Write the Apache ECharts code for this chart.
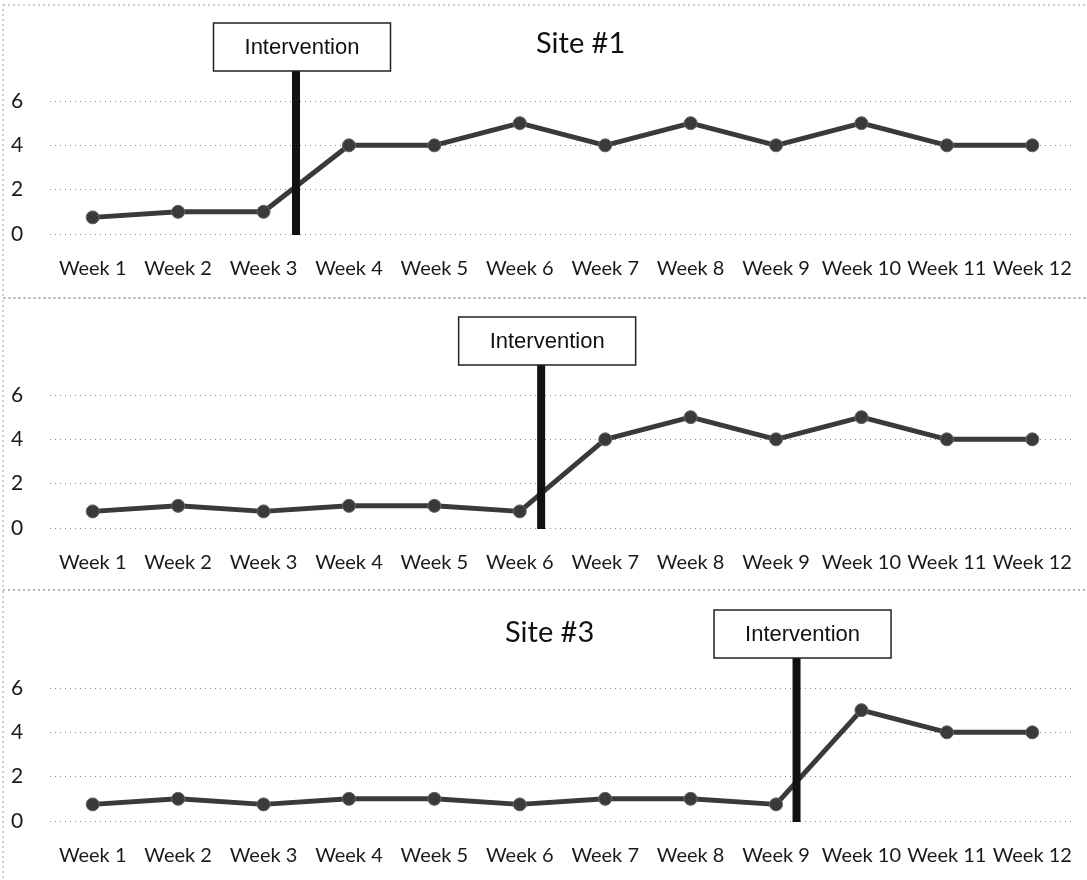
<!DOCTYPE html>
<html>
<head>
<meta charset="utf-8">
<script src="https://cdn.jsdelivr.net/npm/echarts@6/dist/echarts.min.js"></script>
<style>
html,body{margin:0;padding:0;background:#fff;}
#chart{width:1087px;height:880px;}
</style>
</head>
<body>
<div id="chart"></div>
<script>
const weeks = ['Week 1','Week 2','Week 3','Week 4','Week 5','Week 6','Week 7','Week 8','Week 9','Week 10','Week 11','Week 12'];
const site1 = [0.75, 1, 1, 4, 4, 5, 4, 5, 4, 5, 4, 4];
const site2 = [0.75, 1, 0.75, 1, 1, 0.75, 4, 5, 4, 5, 4, 4];
const site3 = [0.75, 1, 0.75, 1, 1, 0.75, 1, 1, 0.75, 5, 4, 4];
const interventionAt = [3.38, 6.25, 9.24];   // week position of intervention line
const panelTitles = ['Site #1', '', 'Site #3'];
const yTicks = [0, 2, 4, 6];

const seriesData = [site1, site2, site3];
const gridTops = [101, 395, 688];
const gridH = 133;
const titlePos = [[581, 47], null, [550, 636]];
const frameY = [5, 298, 590, 884];

const chart = echarts.init(document.getElementById('chart'));

const grids = [], xAxes = [], yAxes = [], series = [], graphics = [];
for (let i = 0; i < 3; i++) {
  grids.push({left: 50, right: 12, top: gridTops[i], height: gridH});
  xAxes.push({
    type: 'category', gridIndex: i, data: weeks, boundaryGap: true,
    axisLine: {show: false}, axisTick: {show: false},
    axisLabel: {fontFamily: 'Lato', fontSize: 20, color: '#1a1a1a', margin: 25, interval: 0}
  });
  yAxes.push({
    type: 'value', gridIndex: i, min: yTicks[0], max: yTicks[yTicks.length-1], interval: 2,
    axisLine: {show: false}, axisTick: {show: false},
    axisLabel: {fontFamily: 'Lato', fontSize: 21, color: '#1a1a1a', margin: 39, align: 'left',
      formatter: v => yTicks.includes(v) ? String(v) : ''},
    splitLine: {show: true, lineStyle: {type: [1, 4], color: '#8a8a8a', width: 1}}
  });
}
// hidden value x axes for positioning intervention markers
for (let i = 0; i < 3; i++) {
  xAxes.push({type: 'value', gridIndex: i, min: 0.5, max: 12.5, show: false});
}
for (let i = 0; i < 3; i++) {
  series.push({
    type: 'line', xAxisIndex: i, yAxisIndex: i, data: seriesData[i],
    symbol: 'circle', symbolSize: 13,
    lineStyle: {color: '#3a3a3a', width: 5},
    itemStyle: {color: '#3a3a3a', borderColor: '#666', borderWidth: 1},
    z: 3
  });
  series.push({
    type: 'custom', xAxisIndex: 3 + i, yAxisIndex: i, data: [[interventionAt[i]]],
    clip: false, z: 5,
    renderItem: function (params, api) {
      const xv = api.value(0);
      const bottom = api.coord([xv, 0]);
      const top6 = api.coord([xv, 6]);
      const boxW = 177, boxH = 48;
      const boxBottom = top6[1] - 30;
      const cx = bottom[0] + 6;
      return {
        type: 'group',
        children: [
          {type: 'line', shape: {x1: bottom[0], y1: boxBottom, x2: bottom[0], y2: bottom[1] + 1},
           style: {stroke: '#111', lineWidth: 8}},
          {type: 'rect', shape: {x: cx - boxW/2, y: boxBottom - boxH, width: boxW, height: boxH},
           style: {fill: '#fff', stroke: '#222', lineWidth: 1.5}},
          {type: 'text', style: {text: 'Intervention', x: cx, y: boxBottom - boxH/2 + 1,
            align: 'center', verticalAlign: 'middle', fontFamily: 'Arial', fontSize: 22, fill: '#111'}}
        ]
      };
    }
  });
  if (panelTitles[i]) {
    graphics.push({
      type: 'text', left: titlePos[i][0] - 45, top: titlePos[i][1] - 18,
      style: {text: panelTitles[i], fontFamily: 'Lato', fontSize: 29, fill: '#111'}
    });
  }
  graphics.push({
    type: 'rect', shape: {x: 3, y: frameY[i], width: 1100, height: frameY[i+1] - frameY[i]},
    style: {fill: 'none', stroke: '#9a9a9a', lineWidth: 1, lineDash: [2, 3]}, z: -1
  });
}

chart.setOption({
  animation: false,
  backgroundColor: '#fff',
  grid: grids,
  xAxis: xAxes,
  yAxis: yAxes,
  series: series,
  graphic: graphics
});
</script>
</body>
</html>
